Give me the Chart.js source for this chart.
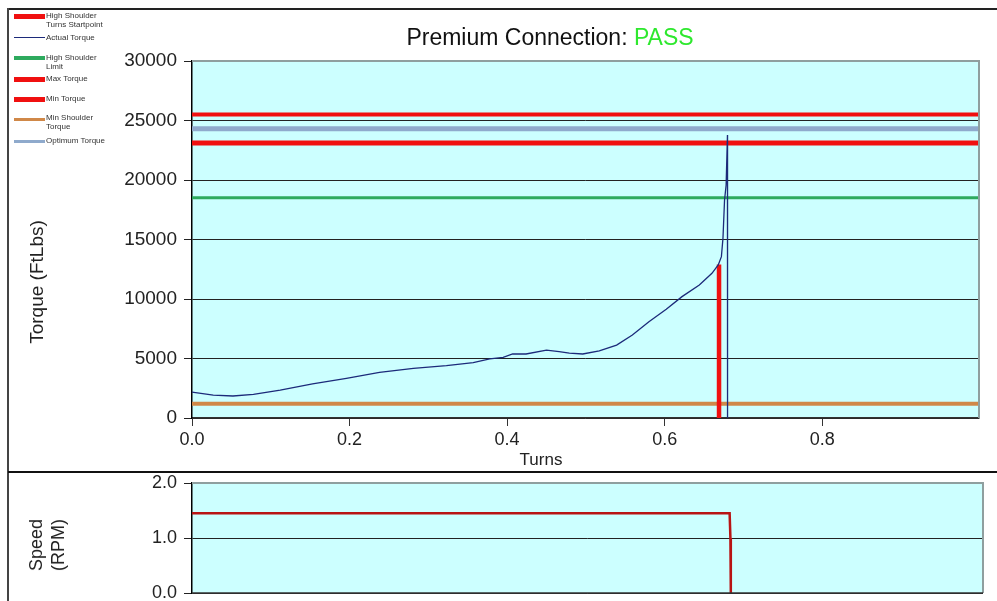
<!DOCTYPE html>
<html>
<head>
<meta charset="utf-8">
<title>Premium Connection</title>
<script src="https://cdn.jsdelivr.net/npm/chart.js@4.4.1/dist/chart.umd.min.js"></script>
<style>
    body { margin: 0; width: 997px; height: 601px; overflow: hidden; position: relative; background: #fff; font-family: 'Liberation Sans', Arial, sans-serif; }
    .abs { position: absolute; }
    .frame-top { left: 8px; top: 8px; width: 989px; border-top: 2px solid #222; }
    .frame-left { left: 7px; top: 8px; height: 593px; border-left: 2px solid #444; }
    .divider { left: 8px; top: 471px; width: 989px; border-top: 2px solid #111; }
    .title { left: 0; top: 24px; width: 1100px; text-align: center; font-size: 23px; color: #111; }
    .title .pass { color: #2ee82e; }
    .ytitle { font-size: 19px; color: #222; transform: translate(-50%, -50%) rotate(-90deg); white-space: nowrap; line-height: 22px; text-align: center; }
    .xtitle { font-size: 17px; color: #222; transform: translate(-50%, -50%); }
    .lg-line { left: 14px; width: 31px; }
    .lg-text { left: 46px; font-size: 8px; line-height: 9px; color: #333; white-space: nowrap; }
</style>
</head>
<body>
<div class="abs frame-top"></div>
<div class="abs frame-left"></div>
<div class="abs divider"></div>

<div class="abs" style="left:0;top:0;"><canvas id="torqueChart" width="997" height="470"></canvas></div>
<div class="abs" style="left:0;top:472px;"><canvas id="speedChart" width="997" height="160"></canvas></div>

<div class="abs title">Premium Connection: <span class="pass">PASS</span></div>
<div class="abs ytitle" style="left:37px;top:282px;">Torque (FtLbs)</div>
<div class="abs xtitle" style="left:541px;top:460px;">Turns</div>
<div class="abs ytitle" style="left:47px;top:545px;font-size:18px;">Speed<br>(RPM)</div>

<!-- legend -->
<div class="abs lg-line" style="top:14px;height:5px;background:#f01010;"></div>
<div class="abs lg-text" style="top:11px;">High Shoulder<br>Turns Startpoint</div>
<div class="abs lg-line" style="top:37px;height:1px;background:#1c2a7a;"></div>
<div class="abs lg-text" style="top:33px;">Actual Torque</div>
<div class="abs lg-line" style="top:56px;height:4px;background:#2eaa5e;"></div>
<div class="abs lg-text" style="top:53px;">High Shoulder<br>Limit</div>
<div class="abs lg-line" style="top:77px;height:5px;background:#f01010;"></div>
<div class="abs lg-text" style="top:74px;">Max Torque</div>
<div class="abs lg-line" style="top:97px;height:5px;background:#f01010;"></div>
<div class="abs lg-text" style="top:94px;">Min Torque</div>
<div class="abs lg-line" style="top:118px;height:3px;background:#d08848;"></div>
<div class="abs lg-text" style="top:113px;">Min Shoulder<br>Torque</div>
<div class="abs lg-line" style="top:140px;height:3px;background:#8faacc;"></div>
<div class="abs lg-text" style="top:136px;">Optimum Torque</div>

<script>
// Torque vs turns
const torqueTurns = [0.000, 0.027, 0.052, 0.078, 0.112, 0.153, 0.196, 0.238, 0.281, 0.323, 0.357, 0.378, 0.395, 0.407, 0.424, 0.450, 0.466, 0.479, 0.496, 0.517, 0.539, 0.559, 0.580, 0.602, 0.622, 0.644, 0.660, 0.668, 0.672, 0.674, 0.676, 0.678, 0.6797, 0.6798];
const torqueValues = [2180, 1930, 1850, 1990, 2350, 2860, 3330, 3840, 4170, 4400, 4650, 4960, 5100, 5380, 5380, 5710, 5580, 5450, 5380, 5650, 6130, 6970, 8090, 9130, 10200, 11180, 12160, 12860, 13560, 15100, 18320, 19580, 23780, 0];

// Speed vs turns
const speedTurns = [0.000, 0.679, 0.680, 0.6805];
const speedValues = [1.45, 1.45, 1.0, 0.0];

// limit lines
const maxTorque = 25500;
const optimumTorque = 24300;
const minTorque = 23100;
const highShoulderLimit = 18500;
const minShoulderTorque = 1200;
const highShoulderTurns = 0.669;
const highShoulderTorque = 12900;

// axes
const turnsMax = 0.999;
const turnsTicks = [0, 0.2, 0.4, 0.6, 0.8];
const torqueTicks = [0, 5000, 10000, 15000, 20000, 25000, 30000];
const speedTicks = [0, 1, 2];

const toPoints = (xs, ys) => xs.map((x, i) => ({ x: x, y: ys[i] }));
const hLine = v => [{ x: 0, y: v }, { x: turnsMax, y: v }];

const plotBg = {
    id: 'plotBg',
    beforeDraw(chart) {
        const { ctx, chartArea: a } = chart;
        ctx.save();
        ctx.fillStyle = '#ccffff';
        ctx.fillRect(a.left, a.top, a.right - a.left, a.bottom - a.top);
        ctx.restore();
    },
    afterDatasetsDraw(chart) {
        const { ctx, chartArea: a } = chart;
        ctx.save();
        ctx.strokeStyle = '#8f9f9f';
        ctx.lineWidth = 2;
        ctx.beginPath();
        ctx.moveTo(a.left, a.top);
        ctx.lineTo(a.right, a.top);
        ctx.lineTo(a.right, a.bottom);
        ctx.stroke();
        ctx.restore();
    }
};

Chart.defaults.font.family = "'Liberation Sans', Arial, sans-serif";
Chart.defaults.color = '#222';
Chart.defaults.animation = false;

function lineSet(label, data, color, width) {
    return { label: label, data: data, borderColor: color, borderWidth: width, pointRadius: 0, fill: false, tension: 0 };
}

new Chart(document.getElementById('torqueChart'), {
    type: 'line',
    data: {
        datasets: [
            lineSet('Actual Torque', toPoints(torqueTurns, torqueValues), '#1c2a7a', 1.3),
            lineSet('High Shoulder Turns Startpoint', [{ x: highShoulderTurns, y: 0 }, { x: highShoulderTurns, y: highShoulderTorque }], '#f01010', 4.5),
            lineSet('High Shoulder Limit', hLine(highShoulderLimit), '#2eaa5e', 3),
            lineSet('Max Torque', hLine(maxTorque), '#f01010', 4),
            lineSet('Min Torque', hLine(minTorque), '#f01010', 5),
            lineSet('Min Shoulder Torque', hLine(minShoulderTorque), '#d08848', 4),
            lineSet('Optimum Torque', hLine(optimumTorque), '#8faacc', 5)
        ]
    },
    options: {
        responsive: false,
        layout: { padding: { left: 0, top: 61, right: 18, bottom: 0 } },
        plugins: { legend: { display: false }, tooltip: { enabled: false } },
        scales: {
            x: {
                type: 'linear', min: 0, max: turnsMax,
                afterBuildTicks: s => { s.ticks = turnsTicks.map(v => ({ value: v })); },
                afterFit: s => { s.height = 52; },
                grid: { drawOnChartArea: false, drawTicks: true, tickLength: 8, color: '#333' },
                border: { color: '#333', width: 1.5 },
                ticks: { padding: 3, maxRotation: 0, font: { size: 18 }, callback: v => v.toFixed(1) }
            },
            y: {
                min: 0, max: 30000,
                afterBuildTicks: s => { s.ticks = torqueTicks.map(v => ({ value: v })); },
                afterFit: s => { s.width = 192; },
                grid: { color: '#222', lineWidth: 1, tickLength: 8 },
                border: { color: '#000', width: 1.5 },
                ticks: { padding: 7, font: { size: 19 }, callback: v => String(v) }
            }
        }
    },
    plugins: [plotBg]
});

new Chart(document.getElementById('speedChart'), {
    type: 'line',
    data: {
        datasets: [lineSet('Speed', toPoints(speedTurns, speedValues), '#b81414', 2.5)]
    },
    options: {
        responsive: false,
        layout: { padding: { left: 0, top: 11, right: 14, bottom: 39 } },
        plugins: { legend: { display: false }, tooltip: { enabled: false } },
        scales: {
            x: { type: 'linear', min: 0, max: turnsMax, display: false },
            y: {
                min: 0, max: 2,
                afterBuildTicks: s => { s.ticks = speedTicks.map(v => ({ value: v })); },
                afterFit: s => { s.width = 192; s.paddingTop = 0; s.paddingBottom = 0; },
                grid: { color: '#222', lineWidth: 1, tickLength: 8 },
                border: { color: '#000', width: 1.5 },
                ticks: { padding: 7, font: { size: 18 }, callback: v => v.toFixed(1) }
            }
        }
    },
    plugins: [plotBg, {
        id: 'bottomEdge',
        afterDatasetsDraw(chart) {
            const { ctx, chartArea: a } = chart;
            ctx.save();
            ctx.strokeStyle = '#333';
            ctx.lineWidth = 1.5;
            ctx.beginPath();
            ctx.moveTo(a.left, a.bottom);
            ctx.lineTo(a.right, a.bottom);
            ctx.stroke();
            ctx.restore();
        }
    }]
});
</script>
</body>
</html>
